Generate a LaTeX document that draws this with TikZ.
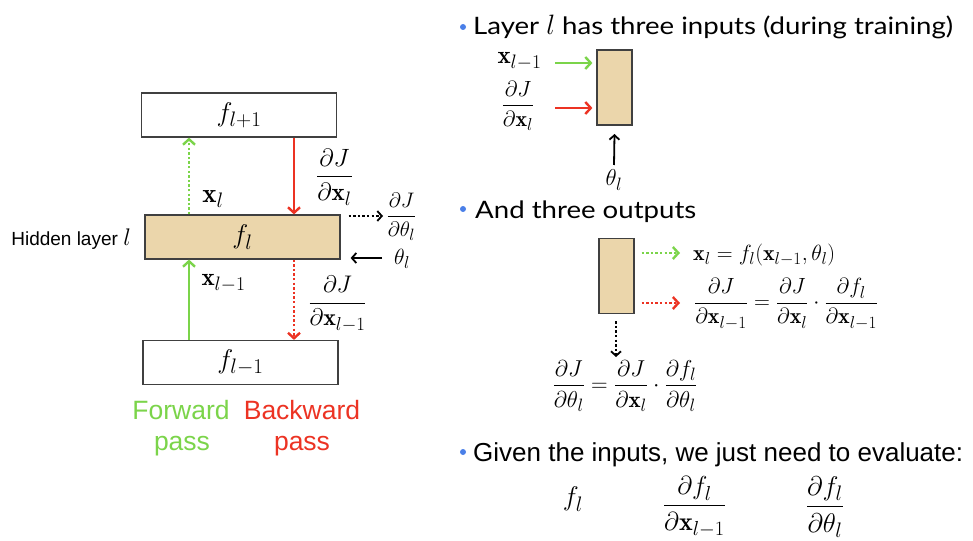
\RequirePackage{fix-cm}
\documentclass[tikz,border=0pt]{standalone}
\usepackage{amsmath}
\usepackage{fontspec}
\usetikzlibrary{arrows.meta,calc}
\newfontfamily\helv{Liberation Sans}
\newfontfamily\avn[FakeStretch=1.15]{Lato}
\DeclareMathSizes{21}{21}{16.4}{12.6}
\DeclareMathSizes{22}{22}{17.2}{13.2}
\DeclareMathSizes{23}{23}{17.9}{13.8}
\DeclareMathSizes{24}{24}{18.7}{14.4}
\DeclareMathSizes{25}{25}{19.5}{15}
\DeclareMathSizes{26}{26}{20.3}{15.6}
\DeclareMathSizes{27}{27}{21}{16.2}
\DeclareMathSizes{28}{28}{21.8}{16.8}
\definecolor{tanfill}{HTML}{EBD6AB}
\definecolor{fgreen}{HTML}{7BD44A}
\definecolor{bred}{HTML}{EC3323}
\definecolor{bulletblue}{HTML}{4A7FE8}
\newcommand\fs[1]{\fontsize{#1}{#1}\selectfont}
\begin{document}
\begin{tikzpicture}[x=1pt,y=-1pt,
  layerbox/.style={draw=black!75, line width=1.2pt, minimum width=195pt, minimum height=44pt, inner sep=0pt, font=\fs{27}},
  smallbox/.style={draw=black!75, line width=1.2pt, fill=tanfill, minimum width=35pt, minimum height=75pt, inner sep=0pt},
  arr/.style={line width=2.4pt, -{Straight Barb[length=5.5pt,width=12pt,line width=2.4pt]}},
  karr/.style={line width=1.8pt, -{Straight Barb[length=4.5pt,width=10pt,line width=1.8pt]}},
  dotline/.style={dash pattern=on 2.4pt off 2.2pt},
  mth/.style={inner sep=1pt},
  bul/.style={circle, fill=bulletblue, inner sep=0pt, minimum size=6pt},
  btext/.style={anchor=base west, inner sep=0pt, font=\avn\fs{24}},
  htext/.style={inner sep=0pt, font=\helv\fs{26.5}}
  ]
\useasboundingbox (0,0) rectangle (973,540);
% ---------- left diagram ----------
\node[layerbox] (fup) at (239,115) {$f_{l+1}$};
\node[layerbox, fill=tanfill] (fl) at (242.5,237) {$f_l$};
\node[layerbox] (fdn) at (240.5,362.5) {$f_{l-1}$};
\coordinate (cg) at (189,0);
\coordinate (cr) at (294,0);
\draw[arr, fgreen, dotline] (fl.north -| cg) -- (fup.south -| cg);
\draw[arr, bred] (fup.south -| cr) -- (fl.north -| cr);
\draw[arr, fgreen] (fdn.north -| cg) -- (fl.south -| cg);
\draw[arr, bred, dotline] (fl.south -| cr) -- (fdn.north -| cr);
\node[mth, font=\fs{27}] (lxl) at (213,199) {$\mathbf{x}_l$};
\node[mth, font=\fs{25}] (ldjx) at (334.5,177) {$\dfrac{\partial J}{\partial \mathbf{x}_l}$};
\node[mth, font=\fs{25}] (lxlm) at (223.5,283) {$\mathbf{x}_{l-1}$};
\node[mth, font=\fs{24}] (ldjxm) at (337.5,304) {$\dfrac{\partial J}{\partial \mathbf{x}_{l-1}}$};
\node[mth, font=\fs{21}] (ldjt) at (401.5,217) {$\dfrac{\partial J}{\partial \theta_l}$};
\node[mth, font=\fs{22}] (ltheta) at (402,259) {$\theta_l$};
\coordinate (dout) at (383,216);
\coordinate (tin) at (382,258);
\draw[karr, black, dotline] ($(fl.east |- dout)+(8,0)$) -- (dout);
\draw[karr, black] (tin) -- ($(fl.east |- tin)+(10,0)$);
\node[anchor=east, inner sep=0pt, font=\helv\fs{19}] (hid) at (131,239) {Hidden layer \fs{24}$l$};
\node[htext, text=fgreen, anchor=base] (fw1) at (181,419) {Forward};
\node[htext, text=fgreen, anchor=base] (fw2) at (182,450) {pass};
\node[htext, text=bred, anchor=base] (bw1) at (302,419) {Backward};
\node[htext, text=bred, anchor=base] (bw2) at (302,450) {pass};
% ---------- right: inputs ----------
\node[bul] (b1) at (463,27) {};
\node[btext] (t1) at (473,35) {Layer \fs{28}$l$\fs{24}{} has three inputs (during training)};
\node[smallbox] (sb1) at (614.5,87.5) {};
\coordinate (gin) at (555,63);
\coordinate (rin) at (555,108);
\coordinate (tin2) at (614,165);
\draw[arr, fgreen] (gin) -- ($(sb1.west |- gin)+(-4,0)$);
\draw[arr, bred] (rin) -- ($(sb1.west |- rin)+(-4,0)$);
\draw[karr, black] (tin2) -- ($(sb1.south |- tin2)+(0,-31)$);
\node[mth, font=\fs{25}] (ixl) at (519.5,61) {$\mathbf{x}_{l-1}$};
\node[mth, font=\fs{22}] (idj) at (518,106) {$\dfrac{\partial J}{\partial \mathbf{x}_l}$};
\node[mth, font=\fs{23}] (ith) at (614,180) {$\theta_l$};
% ---------- right: outputs ----------
\node[bul] (b2) at (463,209) {};
\node[btext] (t2) at (475,218) {And three outputs};
\node[smallbox] (sb2) at (616.5,276) {};
\coordinate (gout) at (680,253);
\coordinate (rout) at (680,303);
\coordinate (kout) at (616,357);
\draw[arr, fgreen, dotline] ($(sb2.east |- gout)+(7,0)$) -- (gout);
\draw[arr, bred, dotline] ($(sb2.east |- rout)+(7,0)$) -- (rout);
\draw[karr, black, dotline] ($(sb2.south -| kout)+(0,7)$) -- (kout);
\node[mth, font=\fs{22}, anchor=west] (oeq1) at (692,255) {$\mathbf{x}_l = f_l(\mathbf{x}_{l-1},\theta_l)$};
\node[mth, font=\fs{22}, anchor=west] (oeq2) at (693,304) {$\dfrac{\partial J}{\partial \mathbf{x}_{l-1}} = \dfrac{\partial J}{\partial \mathbf{x}_l}\cdot\dfrac{\partial f_l}{\partial \mathbf{x}_{l-1}}$};
\node[mth, font=\fs{23}] (oeq3) at (625,386) {$\dfrac{\partial J}{\partial \theta_l} = \dfrac{\partial J}{\partial \mathbf{x}_l}\cdot\dfrac{\partial f_l}{\partial \theta_l}$};
% ---------- right: evaluate ----------
\node[bul] (b3) at (463,452) {};
\node[htext, anchor=base west, font=\helv\fs{26}] (t3) at (473,461) {Given the inputs, we just need to evaluate:};
\node[mth, font=\fs{27}] (e1) at (573,499) {$f_l$};
\node[mth, font=\fs{26}] (e2) at (694.5,507) {$\dfrac{\partial f_l}{\partial \mathbf{x}_{l-1}}$};
\node[mth, font=\fs{27}] (e3) at (825,507) {$\dfrac{\partial f_l}{\partial \theta_l}$};
\end{tikzpicture}
\end{document}
